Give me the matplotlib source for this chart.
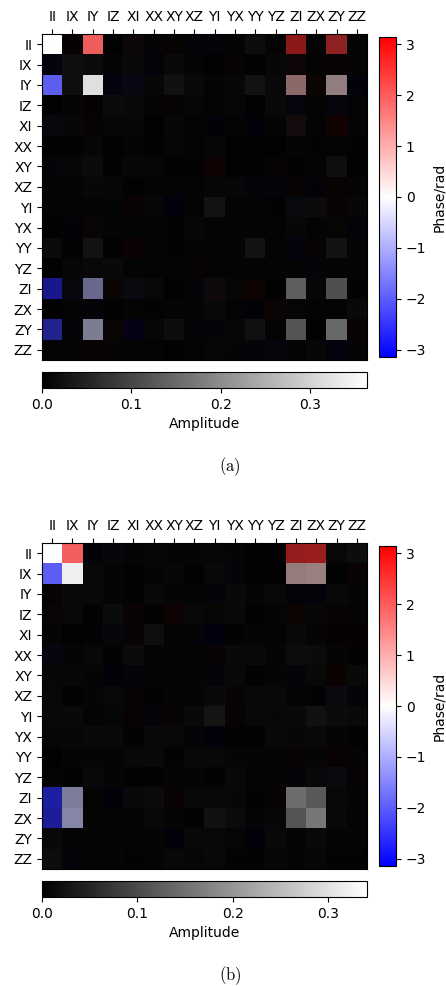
import numpy as np
import matplotlib
matplotlib.use("Agg")
import matplotlib.pyplot as plt
from matplotlib.colors import Normalize
from matplotlib.cm import ScalarMappable

plt.rcParams["mathtext.fontset"] = "cm"

labels = ["II", "IX", "IY", "IZ", "XI", "XX", "XY", "XZ",
          "YI", "YX", "YY", "YZ", "ZI", "ZX", "ZY", "ZZ"]

# --- panel (a): amplitude and phase (rad) of each matrix element ---
amp_a = [
    [0.364, 0.011, 0.340, 0.004, 0.021, 0.010, 0.011, 0.014, 0.014, 0.009, 0.021, 0.007, 0.200, 0.007, 0.200, 0.007],
    [0.021, 0.021, 0.017, 0.010, 0.014, 0.014, 0.014, 0.007, 0.004, 0.011, 0.007, 0.011, 0.021, 0.007, 0.014, 0.006],
    [0.340, 0.021, 0.320, 0.021, 0.029, 0.011, 0.026, 0.014, 0.006, 0.014, 0.026, 0.017, 0.200, 0.017, 0.207, 0.017],
    [0.004, 0.009, 0.011, 0.017, 0.014, 0.007, 0.011, 0.010, 0.006, 0.011, 0.004, 0.014, 0.020, 0.006, 0.017, 0.009],
    [0.021, 0.011, 0.011, 0.011, 0.011, 0.004, 0.011, 0.006, 0.014, 0.006, 0.014, 0.006, 0.029, 0.006, 0.026, 0.006],
    [0.004, 0.007, 0.009, 0.004, 0.006, 0.004, 0.009, 0.007, 0.009, 0.004, 0.004, 0.004, 0.011, 0.007, 0.007, 0.007],
    [0.014, 0.011, 0.020, 0.009, 0.011, 0.009, 0.009, 0.007, 0.021, 0.004, 0.004, 0.011, 0.004, 0.007, 0.021, 0.004],
    [0.011, 0.006, 0.011, 0.009, 0.004, 0.007, 0.009, 0.007, 0.009, 0.011, 0.014, 0.014, 0.014, 0.011, 0.011, 0.006],
    [0.011, 0.006, 0.006, 0.009, 0.014, 0.011, 0.021, 0.007, 0.026, 0.006, 0.006, 0.007, 0.023, 0.017, 0.014, 0.011],
    [0.004, 0.011, 0.014, 0.011, 0.006, 0.006, 0.007, 0.011, 0.006, 0.006, 0.009, 0.007, 0.011, 0.006, 0.009, 0.014],
    [0.017, 0.007, 0.026, 0.004, 0.017, 0.006, 0.007, 0.011, 0.006, 0.009, 0.026, 0.006, 0.021, 0.011, 0.026, 0.009],
    [0.004, 0.009, 0.014, 0.014, 0.007, 0.007, 0.009, 0.011, 0.006, 0.007, 0.006, 0.006, 0.009, 0.014, 0.006, 0.009],
    [0.200, 0.020, 0.200, 0.017, 0.023, 0.014, 0.004, 0.014, 0.023, 0.009, 0.020, 0.004, 0.136, 0.009, 0.114, 0.007],
    [0.004, 0.006, 0.014, 0.004, 0.006, 0.007, 0.006, 0.009, 0.014, 0.007, 0.011, 0.017, 0.009, 0.006, 0.006, 0.014],
    [0.200, 0.014, 0.207, 0.014, 0.029, 0.009, 0.020, 0.011, 0.014, 0.009, 0.023, 0.006, 0.121, 0.004, 0.150, 0.014],
    [0.006, 0.006, 0.014, 0.009, 0.006, 0.006, 0.004, 0.007, 0.009, 0.009, 0.014, 0.017, 0.011, 0.011, 0.021, 0.009],
]
phase_a = [
    [0, 1.96, 1.9, 0, 1.47, -0.9, 1.57, -1.57, -1.57, -1.05, 0.42, 0, 2.58, 0, 2.36, 0],
    [-2.09, 0, 0, -0.9, 0, -1.88, 0, 0, 0, 1.57, -1.26, 0, 1.68, 0, 1.57, 0],
    [-1.9, 0, 0, -2.09, -1.88, 0, 0.35, 0, 0, -0.63, 0, -0.52, 0.8, 1.83, 0.44, -2.36],
    [0, 1.05, 1.96, 0, 0.63, 0, 1.57, 0, 0, 0.79, 0, 0, -1.8, 0, -1.57, -1.05],
    [-1.47, 0, 1.57, -0.39, 0, 0, 0, 0, -2.2, 0, -2.2, 0, 1.26, 0, 2.62, 0],
    [0, 1.26, 0, 0, 0, 0, 0, 0, 0, 0, 0, 0, -0.79, 1.26, 0, 0.63],
    [-1.57, 0, -0.45, -1.57, 0, 0, -1.57, 0.63, 2.51, 0, 0, 1.57, 0, 0, 0, 0],
    [1.18, 0, 0, 0, 0, 0, -1.05, 0, 0, 0, -1.57, -1.57, 1.57, -1.57, 1.57, 0],
    [1.18, 0, 0, 0.52, 1.88, 0, -2.51, 0, 0, 0, 0, 0.63, -1.18, 0, 1.57, 0],
    [0, -1.57, 1.26, -0.79, 0, 0, 0.63, 0, 0, 0, 1.57, 0, 0, 0, 0, -1.88],
    [0, 0.63, 0, 0, 2.09, 0, 0.63, 1.18, 0, -1.05, 0, 0, -2.09, 1.57, 0, 0.52],
    [0, 0, 0.63, 0, 0, 0, -1.05, 1.57, 0, 0, 0, 0, -1.05, -1.26, 0, 1.05],
    [-2.58, -1.35, -0.8, 1.57, -1.18, 0.63, 0, -1.57, 1.18, 0, 2.24, 0, 0, 0, 0, 1.26],
    [0, 0, -1.26, 0, 0, -0.6, 0, 1.05, 0, 0, -1.57, 1.83, 0, 0, 0, 0],
    [-2.36, -1.57, -0.44, 1.26, -2.67, 0, 0, -1.18, -1.26, 0, 0, 0, 0, 0, 0, 2.2],
    [0, 0, 2.2, 1.05, 0, 0, 0, 0, 0, 1.05, -1.26, -1.57, -1.18, 0, -2.3, 1.05],
]

# --- panel (b) ---
amp_b = [
    [0.341, 0.327, 0.013, 0.016, 0.007, 0.011, 0.011, 0.008, 0.011, 0.009, 0.004, 0.008, 0.200, 0.207, 0.013, 0.021],
    [0.327, 0.321, 0.011, 0.008, 0.004, 0.007, 0.011, 0.004, 0.011, 0.013, 0.005, 0.004, 0.200, 0.207, 0.005, 0.013],
    [0.011, 0.013, 0.011, 0.007, 0.005, 0.011, 0.007, 0.008, 0.013, 0.013, 0.008, 0.011, 0.013, 0.013, 0.011, 0.008],
    [0.013, 0.011, 0.005, 0.016, 0.013, 0.005, 0.019, 0.011, 0.011, 0.013, 0.005, 0.008, 0.019, 0.011, 0.011, 0.008],
    [0.007, 0.004, 0.005, 0.016, 0.011, 0.019, 0.008, 0.013, 0.020, 0.005, 0.008, 0.008, 0.013, 0.007, 0.009, 0.009],
    [0.019, 0.008, 0.011, 0.005, 0.016, 0.007, 0.007, 0.007, 0.011, 0.013, 0.013, 0.007, 0.019, 0.016, 0.008, 0.008],
    [0.011, 0.013, 0.007, 0.013, 0.013, 0.007, 0.008, 0.007, 0.013, 0.011, 0.005, 0.008, 0.016, 0.011, 0.016, 0.013],
    [0.011, 0.004, 0.008, 0.011, 0.011, 0.005, 0.008, 0.007, 0.013, 0.011, 0.011, 0.011, 0.008, 0.005, 0.021, 0.016],
    [0.011, 0.013, 0.007, 0.011, 0.013, 0.013, 0.011, 0.013, 0.027, 0.011, 0.011, 0.011, 0.016, 0.024, 0.016, 0.013],
    [0.011, 0.011, 0.013, 0.013, 0.005, 0.013, 0.011, 0.011, 0.016, 0.005, 0.005, 0.011, 0.011, 0.016, 0.011, 0.004],
    [0.004, 0.007, 0.008, 0.007, 0.011, 0.013, 0.005, 0.011, 0.011, 0.008, 0.008, 0.007, 0.011, 0.007, 0.013, 0.007],
    [0.007, 0.004, 0.011, 0.008, 0.005, 0.005, 0.007, 0.008, 0.008, 0.011, 0.008, 0.007, 0.013, 0.013, 0.019, 0.011],
    [0.214, 0.207, 0.007, 0.016, 0.016, 0.016, 0.013, 0.011, 0.013, 0.013, 0.008, 0.011, 0.147, 0.120, 0.011, 0.008],
    [0.207, 0.221, 0.008, 0.008, 0.007, 0.013, 0.008, 0.005, 0.024, 0.016, 0.007, 0.013, 0.114, 0.160, 0.011, 0.008],
    [0.011, 0.007, 0.008, 0.011, 0.007, 0.008, 0.016, 0.013, 0.011, 0.011, 0.016, 0.013, 0.008, 0.011, 0.007, 0.008],
    [0.020, 0.016, 0.007, 0.007, 0.008, 0.007, 0.011, 0.011, 0.011, 0.005, 0.005, 0.011, 0.008, 0.011, 0.005, 0.005],
]
phase_b = [
    [0, 1.92, -2.2, -1.05, 0, 1.18, -1.18, 0, -0.79, 0.45, 0, -1.05, 2.51, 2.53, 0.63, -0.39],
    [-1.92, 0, 0, 0, 0, 0, 0.4, 0, 0, -1.26, 0, 0, 0.55, 0.55, 0, 1.88],
    [1.96, 0, 0, 0, 0, 0, 0, 0, -1.57, 0, 0, 0, -1.88, -1.88, 0, 0],
    [1.26, 0, 0, 0, 1.88, 0, 2.47, 0, 1.18, 0, 0, 0, 2.47, 0.39, 1.57, 1.05],
    [0, 0, 0, -1.57, 1.57, 0, 1.57, -1.57, -2.51, 0, 0, 0.52, 0.63, 0, 1.8, 1.8],
    [-1.8, 0, 0, 0, 0, 0, 0, 0, 1.57, 0, 0, 0, 0.45, 0, 0, -1.05],
    [0.79, -0.63, 0, -2.2, -1.57, 0, 1.05, 0, -1.57, 0, 0, 0, -1.83, 0, 2.36, 0],
    [0, 0, 0, 0, 1.57, 0, 0, 0, 0, 1.57, 0, 0, 0, 0, -0.79, -1.83],
    [0, 0, 0.63, -0.79, 2.2, -1.26, 1.57, 0, 0, 1.96, 0, 0.79, -0.52, 0, 0, 0],
    [-0.79, 0.79, 0, 0, 0, 0, 0, -1.18, -2.36, 0, 0, 0, 0.79, -0.52, -1.18, 0],
    [0, 0, 0, 0, 0, 0, 0, 0, 0, 0, 0, 0, 1.57, 0, 2.2, 0.63],
    [1.26, 0, 0, 0, 0, 0, 0, 0, -1.05, 0, 0.52, 0, -1.57, 0.63, -0.9, 1.57],
    [-2.55, -0.6, 1.26, -2.36, -0.52, 0, 2.2, 0, 0.63, -0.63, -1.05, 1.57, 0, 0, 0, 0],
    [-2.53, -0.6, 1.05, 0, 0, 0, 0, 0, 0, 0, 0, -0.63, 0, 0, 0, 1.05],
    [0, 0, 0, -1.18, 0, 0, -2.36, 0.63, 0, 1.18, -2.36, 0.63, 0, 0, 0, 0],
    [0.2, -1.83, 0, 0, -1.05, 0, 0, 1.18, 0, 0, 0, -0.79, -0.5, -0.79, 0, 0],
]

W, H = 446, 986
fig = plt.figure(figsize=(W / 100, H / 100), dpi=100)

def fr(x0, y0, x1, y1):
    # pixel box (top-left origin) -> figure fraction rect
    return [x0 / W, 1 - y1 / H, (x1 - x0) / W, (y1 - y0) / H]

def panel(amp, phase, top, tag):
    amp = np.array(amp)
    phase = np.array(phase)
    amax = amp.max()
    pnorm = Normalize(-np.pi, np.pi)
    rgb = plt.cm.bwr(pnorm(phase))[..., :3] * (amp / amax)[..., None]

    ax = fig.add_axes(fr(42, top, 367, top + 326))
    ax.imshow(rgb, interpolation="nearest", aspect="auto")
    ax.xaxis.tick_top()
    ax.set_xticks(range(16))
    ax.set_xticklabels(labels, fontsize=10)
    ax.set_yticks(range(16))
    ax.set_yticklabels(labels, fontsize=10)

    cax = fig.add_axes(fr(379, top + 3, 396, top + 323))
    cb = fig.colorbar(ScalarMappable(norm=pnorm, cmap="bwr"), cax=cax)
    cb.set_ticks([-3, -2, -1, 0, 1, 2, 3])
    cb.ax.tick_params(labelsize=10)
    cb.set_label("Phase/rad", fontsize=10)

    aax = fig.add_axes(fr(42, top + 338, 367, top + 354))
    cb2 = fig.colorbar(ScalarMappable(norm=Normalize(0, amax), cmap="gray"),
                       cax=aax, orientation="horizontal")
    cb2.set_ticks([0.0, 0.1, 0.2, 0.3])
    cb2.ax.tick_params(labelsize=10)
    cb2.set_label("Amplitude", fontsize=10)

    fig.text(230 / W, 1 - (top + 433) / H, r"$\mathrm{(%s)}$" % tag,
             ha="center", va="center", fontsize=12)

panel(amp_a, phase_a, 34, "a")
panel(amp_b, phase_b, 543, "b")

fig.savefig("out.png", dpi=100)
